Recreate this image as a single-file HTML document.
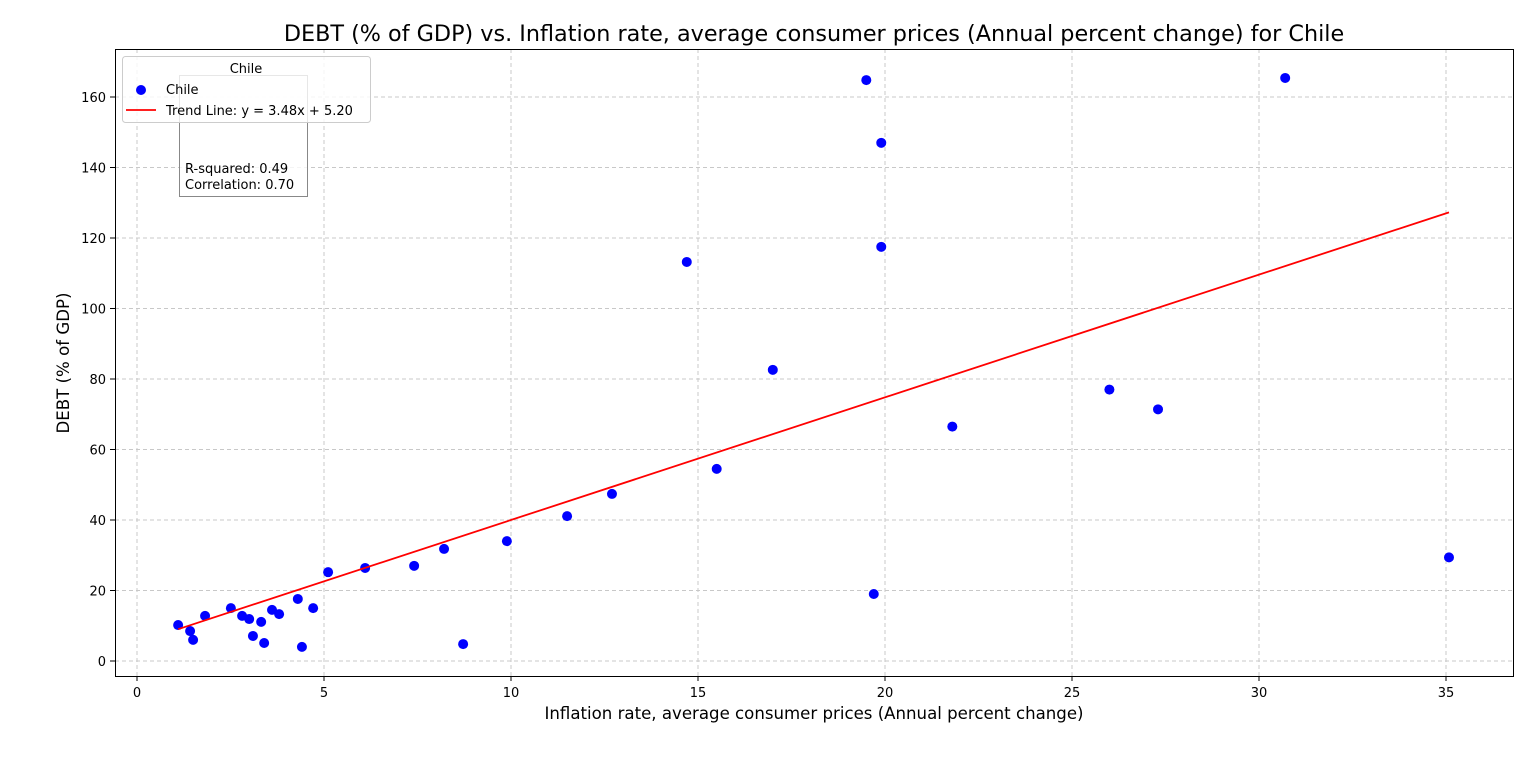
<!DOCTYPE html>
<html><head><meta charset="utf-8"><style>
body{margin:0;background:#fff;}
svg text{font-family:"DejaVu Sans","Liberation Sans",sans-serif;}
</style></head><body>
<svg id="chart" width="1536" height="754" xmlns="http://www.w3.org/2000/svg">
<text x="814" y="41" font-size="22.3" text-anchor="middle">DEBT (% of GDP) vs. Inflation rate, average consumer prices (Annual percent change) for Chile</text>
<g id="grid"></g>
<g id="ticks"></g>
<g id="marks"></g>
<rect x="115.5" y="49.5" width="1398" height="627" fill="none" stroke="#000" stroke-width="1"/>
<text x="814" y="719" font-size="16.6" text-anchor="middle">Inflation rate, average consumer prices (Annual percent change)</text>
<text transform="translate(69,363) rotate(-90)" font-size="16.6" text-anchor="middle">DEBT (% of GDP)</text>
<g>
<rect x="179.5" y="75.5" width="128" height="121" fill="#fff" fill-opacity="0.8" stroke="#888"/>
<text x="185" y="173" font-size="13">R-squared: 0.49</text>
<text x="185" y="189" font-size="13">Correlation: 0.70</text>
</g>
<g>
<rect x="122.5" y="56.5" width="248" height="66" rx="3" fill="#fff" fill-opacity="0.8" stroke="#ccc"/>
<text x="246" y="73" font-size="13" text-anchor="middle">Chile</text>
<circle cx="141" cy="90" r="5" fill="#0000ff"/>
<text x="166" y="94" font-size="13">Chile</text>
<line x1="126" y1="110" x2="156" y2="110" stroke="#ff0000" stroke-width="1.8"/>
<text x="166" y="115" font-size="13">Trend Line: y = 3.48x + 5.20</text>
</g>
</svg>
<script>
const xValues=[1.10,1.42,1.50,1.82,2.51,2.81,3.0,3.10,3.32,3.40,3.61,3.80,4.30,4.41,4.71,5.11,6.10,7.41,8.21,8.72,9.89,11.5,12.7,14.7,15.5,17.0,19.5,19.7,19.9,19.9,21.8,26.0,27.3,30.7,35.08];
const yValues=[10.2,8.5,6.0,12.8,15.0,12.8,11.9,7.1,11.1,5.1,14.5,13.3,17.6,4.0,15.0,25.2,26.4,27.0,31.8,4.8,34.0,41.1,47.4,113.2,54.5,82.6,164.8,19.0,147.0,117.5,66.5,77.0,71.4,165.4,29.4];
const xTicks=[0,5,10,15,20,25,30,35];
const yTicks=[0,20,40,60,80,100,120,140,160];
const slope=3.48, intercept=5.20;
const NS='http://www.w3.org/2000/svg';
const xs=v=>137+v*37.4;
const ys=v=>661-v*3.525;
function mk(tag,attrs,parent){const e=document.createElementNS(NS,tag);for(const k in attrs)e.setAttribute(k,attrs[k]);document.getElementById(parent).appendChild(e);return e;}
xTicks.forEach(t=>{
 const g=mk('line',{x1:xs(t),x2:xs(t),y1:49,y2:676,stroke:'#c8c8c8','stroke-dasharray':'4,3'},'grid');
 
 
 const tk=mk('line',{x1:xs(t),x2:xs(t),y1:676,y2:681,stroke:'#000'},'ticks');
 
 
 const tx=mk('text',{x:xs(t),y:697,'font-size':13,'text-anchor':'middle'},'ticks');tx.textContent=t;
 
 
});
yTicks.forEach(t=>{
 const g=mk('line',{x1:115,x2:1513,y1:ys(t),y2:ys(t),stroke:'#c8c8c8','stroke-dasharray':'4,3'},'grid');
 
 
 const tk=mk('line',{x1:110,x2:115,y1:ys(t),y2:ys(t),stroke:'#000'},'ticks');
 
 
 const tx=mk('text',{x:106,y:ys(t)+5,'font-size':13,'text-anchor':'end'},'ticks');tx.textContent=t;
 
 
});
xValues.forEach((x,i)=>{
 const c=mk('circle',{cx:xs(x),cy:ys(yValues[i]),r:5,fill:'#0000ff'},'marks');
 
 
});
const xmin=Math.min(...xValues), xmax=Math.max(...xValues);
const tl=mk('line',{x1:xs(xmin),y1:ys(slope*xmin+intercept),x2:xs(xmax),y2:ys(slope*xmax+intercept),stroke:'#ff0000','stroke-width':1.8},'marks');


</script>
</body></html>
